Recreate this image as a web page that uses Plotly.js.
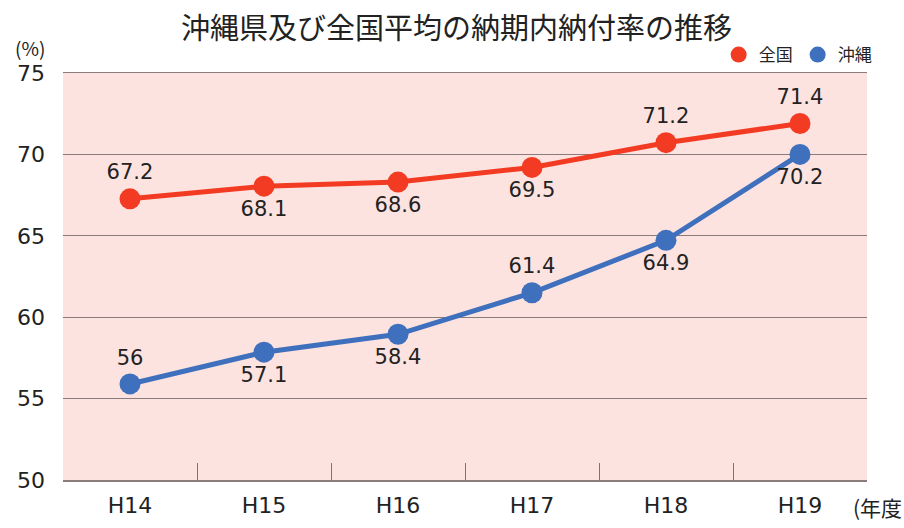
<!DOCTYPE html>
<html><head><meta charset="utf-8">
<script src="https://cdn.plot.ly/plotly-3.0.1.min.js"></script>
<style>html,body{margin:0;padding:0;background:#fff}#chart{width:904px;height:528px}</style>
</head><body><div id="chart"></div>
<script>
const categories = ["H14","H15","H16","H17","H18","H19"];
const nationalValues = [67.27, 68.05, 68.3, 69.2, 70.72, 71.9];
const nationalLabels = ["67.2","68.1","68.6","69.5","71.2","71.4"];
const okinawaValues = [55.9, 57.85, 58.95, 61.5, 64.72, 70.0];
const okinawaLabels = ["56","57.1","58.4","61.4","64.9","70.2"];
const yTicks = [50,55,60,65,70,75];

const RED = "#f23b22", BLUE = "#3f70bd";
const FONT = "Noto Sans CJK JP, Noto Sans, sans-serif";
const NUMFONT = "DejaVu Sans, Noto Sans CJK JP, sans-serif";

const traces = [
  {x: categories, y: nationalValues, text: nationalLabels, mode: "lines+markers+text",
   textposition: ["top center","bottom center","bottom center","bottom center","top center","top center"],
   textfont: {size: 21, color: "#222", family: NUMFONT},
   line: {color: RED, width: 5}, marker: {color: RED, size: 21}, showlegend: false, cliponaxis: false},
  {x: categories, y: okinawaValues, text: okinawaLabels, mode: "lines+markers+text",
   textposition: ["top center","bottom center","bottom center","top center","bottom center","bottom center"],
   textfont: {size: 21, color: "#222", family: NUMFONT},
   line: {color: BLUE, width: 5}, marker: {color: BLUE, size: 21}, showlegend: false, cliponaxis: false},
  {x: [null], y: [null], name: "全国", mode: "markers", marker: {color: RED, size: 19}},
  {x: [null], y: [null], name: "沖縄", mode: "markers", marker: {color: BLUE, size: 19}}
];

const layout = {
  width: 904, height: 528,
  margin: {l: 63, r: 37, t: 73, b: 48},
  paper_bgcolor: "#fff", plot_bgcolor: "#fde3df",
  font: {family: FONT, color: "#222"},
  title: {text: "沖縄県及び全国平均の納期内納付率の推移", x: 0.505, xanchor: "center", y: 0.945, yanchor: "middle",
          font: {size: 29, color: "#222", family: FONT}},
  showlegend: true,
  legend: {orientation: "h", x: 1.012, xanchor: "right", y: 1.0, yanchor: "bottom",
           font: {size: 17, family: FONT, color: "#222"}, itemwidth: 30, tracegroupgap: 0,
           bgcolor: "rgba(0,0,0,0)"},
  xaxis: {type: "category", range: [-0.5, 5.5], showgrid: false, showline: true, linecolor: "#8a7c7a", linewidth: 1.5,
          mirror: true, ticks: "inside", tickson: "boundaries", ticklen: 17, tickcolor: "#777",
          ticklabelstandoff: 5,
          tickfont: {size: 22, color: "#222", family: NUMFONT}, zeroline: false, fixedrange: true},
  yaxis: {range: [50, 75], tickvals: yTicks, showgrid: true, gridcolor: "#8a7c7a", gridwidth: 1,
          zeroline: false, showline: false, ticks: "", ticklabelstandoff: 17,
          tickfont: {size: 22, color: "#222", family: NUMFONT}, fixedrange: true},
  annotations: [
    {text: "(%)", xref: "paper", yref: "paper", x: -0.062, y: 1.025, xanchor: "left", yanchor: "bottom",
     showarrow: false, font: {size: 19, color: "#222", family: FONT}},
    {text: "(年度", xref: "paper", yref: "paper", x: 1.046, y: -0.025, xanchor: "right", yanchor: "top",
     showarrow: false, font: {size: 21, color: "#222", family: FONT}}
  ]
};
Plotly.newPlot("chart", traces, layout, {displayModeBar: false, staticPlot: true});
</script></body></html>
